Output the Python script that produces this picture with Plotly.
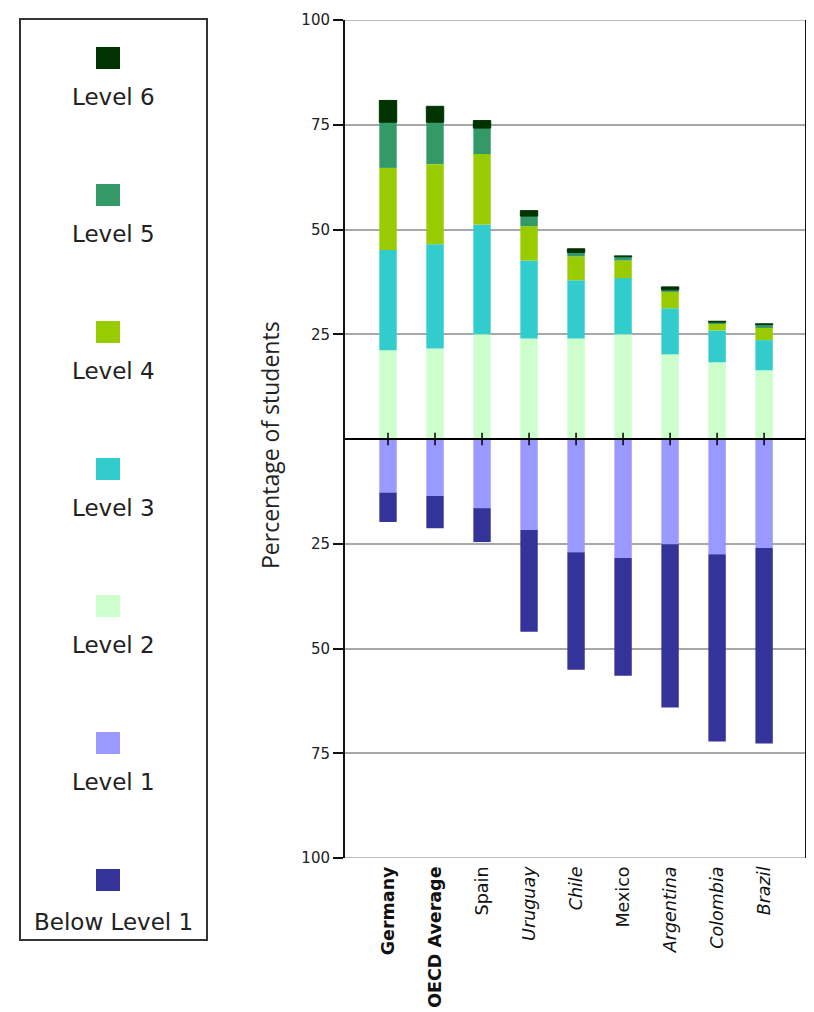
import plotly.graph_objects as go

# ---------------- data ----------------
countries = ["Germany", "OECD Average", "Spain", "Uruguay", "Chile",
             "Mexico", "Argentina", "Colombia", "Brazil"]
country_labels = ["<b>Germany</b>", "<b>OECD Average</b>", "Spain", "<i>Uruguay</i>",
                  "<i>Chile</i>", "Mexico", "<i>Argentina</i>", "<i>Colombia</i>", "<i>Brazil</i>"]

level2 = [21.2, 21.6, 25.0, 24.0, 24.0, 25.0, 20.2, 18.3, 16.4]
level3 = [23.9, 24.9, 26.2, 18.6, 13.9, 13.4, 11.0, 7.6, 7.2]
level4 = [19.6, 19.1, 16.8, 8.2, 5.7, 4.2, 3.9, 1.7, 2.9]
level5 = [10.9, 10.0, 6.2, 2.4, 0.9, 0.9, 0.5, 0.3, 0.8]
level6 = [5.2, 3.8, 1.8, 1.3, 0.9, 0.2, 0.7, 0.2, 0.2]
level1 = [12.8, 13.6, 16.5, 21.7, 27.0, 28.4, 25.1, 27.5, 26.0]        # plotted below zero
below_level1 = [7.0, 7.7, 8.1, 24.3, 28.1, 28.1, 39.0, 44.7, 46.7]     # plotted below zero

legend_labels = ["Level 6", "Level 5", "Level 4", "Level 3", "Level 2", "Level 1", "Below Level 1"]
legend_colors = ["#003300", "#339966", "#99cc00", "#33cccc", "#ccffcc", "#9999ff", "#333399"]

y_tickvals = [-100, -75, -50, -25, 25, 50, 75, 100]
y_ticktext = ["100", "75", "50", "25", "25", "50", "75", "100"]

# ---------------- layout helpers (page pixel coords -> paper) ----------------
OFF = 8                      # page body margin
W, H = 814 - OFF, 1012 - OFF
PLOT_L, PLOT_R, PLOT_T, PLOT_B = 345, 805, 20, 858   # page coords of plot area
ML = PLOT_L - OFF
MR = W - (PLOT_R - OFF)
MT = PLOT_T - OFF
MB = H - (PLOT_B - OFF)
PW, PH = PLOT_R - PLOT_L, PLOT_B - PLOT_T


def px_x(px):
    return (px - PLOT_L) / PW


def px_y(py):
    return (PLOT_B - py) / PH


col = dict(zip(legend_labels, legend_colors))
fig = go.Figure()

bar_w = 0.37
pos_series = [("Level 2", level2), ("Level 3", level3), ("Level 4", level4),
              ("Level 5", level5), ("Level 6", level6)]
for name, vals in pos_series:
    fig.add_trace(go.Bar(
        x=countries, y=vals, name=name, width=bar_w,
        marker=dict(color=col[name],
                    line=dict(color=col[name], width=1 if name == "Level 6" else 0)),
        showlegend=False))

neg_series = [("Level 1", level1), ("Below Level 1", below_level1)]
for name, vals in neg_series:
    fig.add_trace(go.Bar(
        x=countries, y=[-v for v in vals], name=name, width=bar_w,
        marker=dict(color=col[name], line=dict(width=0)),
        showlegend=False))

# tick marks on the zero line
fig.add_trace(go.Scatter(
    x=countries, y=[0] * len(countries), mode="markers",
    marker=dict(symbol="line-ns", size=9, line=dict(color="black", width=1.5)),
    showlegend=False, hoverinfo="skip"))

fig.update_layout(
    width=W, height=H,
    margin=dict(l=ML, r=MR, t=MT, b=MB, pad=0, autoexpand=False),
    barmode="relative",
    paper_bgcolor="white", plot_bgcolor="white",
    font=dict(family="DejaVu Sans", color="#222"),
)

fig.update_xaxes(
    type="category", range=[-0.915, 8.87], automargin=False,
    tickvals=countries, ticktext=country_labels,
    tickangle=-90, ticks="", showgrid=False, showline=False, zeroline=False,
    ticklabelstandoff=4,
    tickfont=dict(family="DejaVu Sans", size=17.5, color="#111"),
)

fig.update_yaxes(
    range=[-100, 100], tickvals=y_tickvals, ticktext=y_ticktext, automargin=False,
    showgrid=True, gridcolor="#a8a8a8", gridwidth=1.5,
    zeroline=False,
    showline=True, linecolor="#111", linewidth=2, mirror=True,
    ticks="outside", ticklen=10, tickcolor="#111", tickwidth=1.5,
    tickfont=dict(family="DejaVu Sans", size=15, color="#222"),
)

shapes = []
# top / bottom grid lines at the range edges
for yv in (100, -100):
    shapes.append(dict(type="line", xref="paper", yref="y", x0=0, x1=1, y0=yv, y1=yv,
                       line=dict(color="#a8a8a8", width=1.5), layer="below"))
# zero line drawn above bars
shapes.append(dict(type="line", xref="paper", yref="y", x0=0, x1=1, y0=0, y1=0,
                   line=dict(color="black", width=2), layer="above"))

# legend box
shapes.append(dict(type="rect", xref="paper", yref="paper",
                   x0=px_x(20), x1=px_x(207), y0=px_y(940), y1=px_y(19),
                   line=dict(color="#333", width=2), fillcolor="rgba(0,0,0,0)"))

annotations = []
for i, (lab, c) in enumerate(zip(legend_labels, legend_colors)):
    cy = 58 + 137 * i
    ly = 97 + 137 * i + (3 if i == len(legend_labels) - 1 else 0)
    shapes.append(dict(type="rect", xref="paper", yref="paper",
                       x0=px_x(96), x1=px_x(120), y0=px_y(cy + 11), y1=px_y(cy - 11),
                       line=dict(width=0), fillcolor=c))
    annotations.append(dict(text=lab, xref="paper", yref="paper",
                            x=px_x(113), y=px_y(ly), xanchor="center", yanchor="middle",
                            showarrow=False,
                            font=dict(family="DejaVu Sans", size=23, color="#222")))

# y-axis title
annotations.append(dict(text="Percentage of students", xref="paper", yref="paper",
                        x=px_x(270), y=px_y(445), xanchor="center", yanchor="middle",
                        textangle=-90, showarrow=False,
                        font=dict(family="Open Sans", size=23, color="#222")))

fig.update_layout(shapes=shapes, annotations=annotations)

fig.write_html("out.html")
